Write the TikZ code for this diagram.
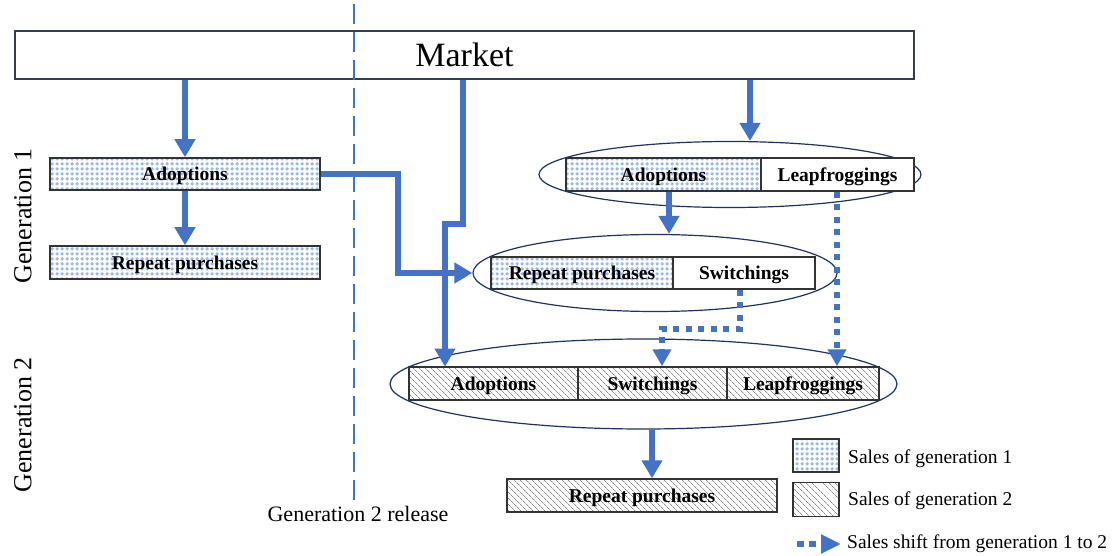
\documentclass[tikz,border=0pt]{standalone}
\usepackage{fontspec}
\setmainfont{Liberation Serif}
\usetikzlibrary{arrows.meta,patterns,patterns.meta,shapes.geometric}

\definecolor{flowblue}{HTML}{4472C4}
\definecolor{dotblue}{HTML}{9FB9E5}
\definecolor{boxgray}{HTML}{333333}
\definecolor{hatchgray}{HTML}{8C8C8C}
\definecolor{ellnavy}{HTML}{1F3260}
\definecolor{mktgray}{HTML}{333F4F}

\tikzdeclarepattern{
  name=bluedots, type=uncolored,
  bottom left={(0pt,0pt)}, top right={(5pt,5pt)}, tile size={(5pt,5pt)},
  code={\fill (2.5pt,0.3pt) -- (4.7pt,2.5pt) -- (2.5pt,4.7pt) -- (0.3pt,2.5pt) -- cycle;}
}

\begin{document}
\begin{tikzpicture}[x=1pt,y=-1pt,
  salesbox/.style={draw=boxgray, line width=1.5pt, minimum height=33pt, inner sep=0pt,
    text height=13.5pt, text depth=0pt,
    font=\fontsize{19.5}{22}\selectfont\bfseries},
  gone/.style={salesbox, pattern=bluedots, pattern color=dotblue},
  gtwo/.style={salesbox, pattern={Lines[angle=-45,distance=4pt,line width=0.8pt]}, pattern color=hatchgray},
  plain/.style={salesbox, fill=white},
  ellbox/.style={ellipse, draw=ellnavy, line width=1.2pt, inner sep=0pt},
  flowarrow/.style={draw=flowblue, line width=6pt, -{Triangle[width=20pt,length=18pt]}},
  shiftline/.style={draw=flowblue, line width=5.5pt, dash pattern=on 6pt off 6.5pt,
    -{Triangle[width=18pt,length=17pt]}},
  relline/.style={draw=flowblue, line width=2pt, dash pattern=on 20pt off 8pt},
  gentext/.style={font=\fontsize{26}{30}\selectfont, rotate=90},
  legtext/.style={font=\fontsize{19.5}{22}\selectfont, anchor=west, inner sep=0pt}
]
\useasboundingbox (0,0) rectangle (1120,556);

% Market
\node[draw=mktgray, line width=2.5pt, minimum width=899pt, minimum height=48pt, inner sep=0pt,
  font=\fontsize{34}{40}\selectfont] (market) at (464.5,55) {Market};

% generation labels
\node[gentext] (gen1) at (23,216) {Generation 1};
\node[gentext] (gen2) at (23,425) {Generation 2};

% ellipses
\node[ellbox, minimum width=382pt, minimum height=66pt] (e1) at (730,174.5) {};
\node[ellbox, minimum width=364pt, minimum height=77pt] (e2) at (655,273) {};
\node[ellbox, minimum width=507pt, minimum height=90pt] (e3) at (643.5,384) {};

% generation 1 left
\node[gone, minimum width=270pt, minimum height=32pt] (a1) at (185,174) {Adoptions};
\node[gone, minimum width=270pt] (r1) at (185,262.5) {Repeat purchases};

% ellipse 1 contents
\node[gone, minimum width=195pt] (a1r) at (663.5,174.5) {Adoptions};
\node[plain, minimum width=153pt] (lf1) at (837.5,174.5) {Leapfroggings};

% ellipse 2 contents
\node[gone, minimum width=182pt, minimum height=32pt] (rp2) at (582,273) {Repeat purchases};
\node[plain, minimum width=142pt, minimum height=32pt] (sw1) at (744,273) {Switchings};

% ellipse 3 contents
\node[gtwo, minimum width=169pt] (ad2) at (493.5,383.5) {Adoptions};
\node[gtwo, minimum width=149pt] (sw2) at (652.5,383.5) {Switchings};
\node[gtwo, minimum width=152pt] (lf2) at (803,383.5) {Leapfroggings};

% generation 2 repeat purchases
\node[gtwo, minimum width=270pt] (rp3) at (642,495.5) {Repeat purchases};

% release line
\coordinate (rt) at (354,4);
\coordinate (rb) at (354,504);
\draw[relline] (rt) -- (rb);
\node[font=\fontsize{22}{26}\selectfont] (rel) at (358,514) {Generation 2 release};

% connectors
\draw[flowarrow] (market.south -| a1.north) -- (a1.north);
\draw[flowarrow] (a1.south) -- (r1.north);

\coordinate (k1) at (398,174);
\draw[flowarrow] (a1.east) -- (k1) |- (e2.west);

\coordinate (k2) at (463,224);
\coordinate (k3) at (445,224);
\draw[flowarrow] (market.south -| k2) -- (k2) -- (k3) -- (k3 |- ad2.north);

\coordinate (k4) at (750,0);
\draw[flowarrow] (market.south -| k4) -- (k4 |- e1.north);

\coordinate (k5) at (669,0);
\draw[flowarrow] (a1r.south -| k5) -- (k5 |- e2.north);

\coordinate (k6) at (740,329);
\coordinate (k7) at (662,329);
\draw[shiftline] (sw1.south -| k6) -- (k6) -- (k7) -- (k7 |- sw2.north);

\coordinate (k8) at (837,0);
\draw[shiftline] (lf1.south -| k8) -- (k8 |- lf2.north);

\coordinate (k9) at (652,0);
\draw[flowarrow] (e3.south -| k9) -- (k9 |- rp3.north);

% legend
\node[gone, minimum width=46pt, minimum height=33pt] (lg1) at (816,455.5) {};
\node[gtwo, minimum width=46pt, minimum height=34pt] (lg2) at (816,499.5) {};
\node[legtext] (lt1) at (848,459) {Sales of generation 1};
\node[legtext] (lt2) at (848,501) {Sales of generation 2};
\coordinate (la) at (797,544);
\coordinate (lb) at (841,544);
\draw[draw=flowblue, line width=6.5pt, dash pattern=on 7pt off 5pt,
  -{Triangle[width=18pt,length=20pt]}] (la) -- (lb);
\node[legtext] (lt3) at (847,544) {Sales shift from generation 1 to 2};
\end{tikzpicture}
\end{document}
